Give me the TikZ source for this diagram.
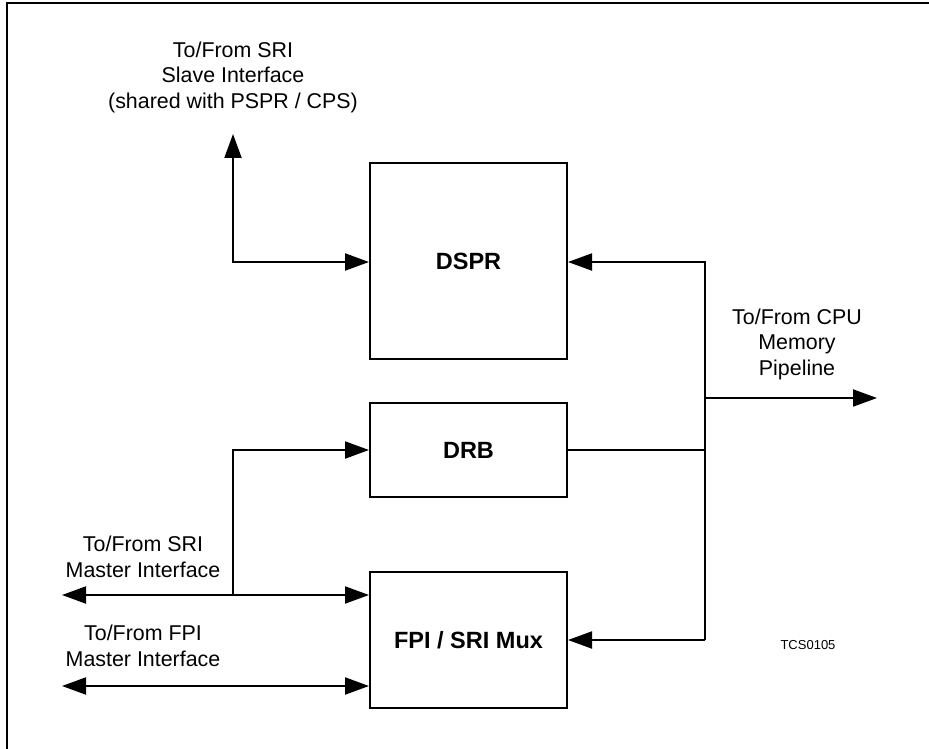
\documentclass[tikz,border=0pt]{standalone}
\usepackage{fontspec}
\setmainfont{Liberation Sans}
\usetikzlibrary{arrows.meta}
\begin{document}
\begin{tikzpicture}[x=1pt,y=-1pt,
  line width=2pt,
  blk/.style={draw, line width=2pt, minimum width=197pt, inner sep=0pt, font=\fontsize{23.5}{28}\selectfont\bfseries},
  lbl/.style={align=center, inner sep=0pt, font=\fontsize{21.4}{25.5}\selectfont},
  tip/.style={-{Triangle[length=24pt,width=17pt]}},
  tips/.style={{Triangle[length=24pt,width=17pt]}-{Triangle[length=24pt,width=17pt]}}
]
\useasboundingbox (0,0) rectangle (929,749);
\draw[line width=2pt] (7,749) -- (7,3) -- (929,3);

\node[blk, minimum height=195pt] (dspr) at (468.5,261) {DSPR};
\node[blk, minimum height=94pt] (drb) at (468.5,450) {DRB};
\node[blk, minimum height=136pt] (mux) at (468.5,640) {FPI / SRI Mux};

\node[lbl] (slave) at (233,77) {To/From SRI\\Slave Interface\\(shared with PSPR / CPS)};
\node[lbl] (cpu) at (797,344) {To/From CPU\\Memory\\Pipeline};
\node[lbl] (srim) at (143,557) {To/From SRI\\Master Interface};
\node[lbl] (fpim) at (143,646) {To/From FPI\\Master Interface};
\node[inner sep=0pt, font=\fontsize{13}{15}\selectfont] (tcs) at (808,645) {TCS0105};

\coordinate (slavetip) at (233,134);
\coordinate (bustop) at (705,262);
\coordinate (busbot) at (705,640);
\coordinate (busout) at (705,398);
\coordinate (cputip) at (877,398);
\coordinate (srileft) at (62,595);
\coordinate (srijn) at (233,595);
\coordinate (fpileft) at (62,686);

% SRI slave
\draw[tips] (slavetip) |- (dspr.west |- bustop);
% right bus
\draw[tip] (busbot) -- (bustop) -- (dspr.east |- bustop);
\draw[tip] (busbot) -- (mux.east |- busbot);
\draw (drb.east) -- (drb.east -| busout);
\draw[tip] (busout) -- (cputip);
% SRI master
\draw[tips] (srileft) -- (mux.west |- srileft);
\draw[tip] (srijn) |- (drb.west);
% FPI master
\draw[tips] (fpileft) -- (mux.west |- fpileft);
\end{tikzpicture}
\end{document}
